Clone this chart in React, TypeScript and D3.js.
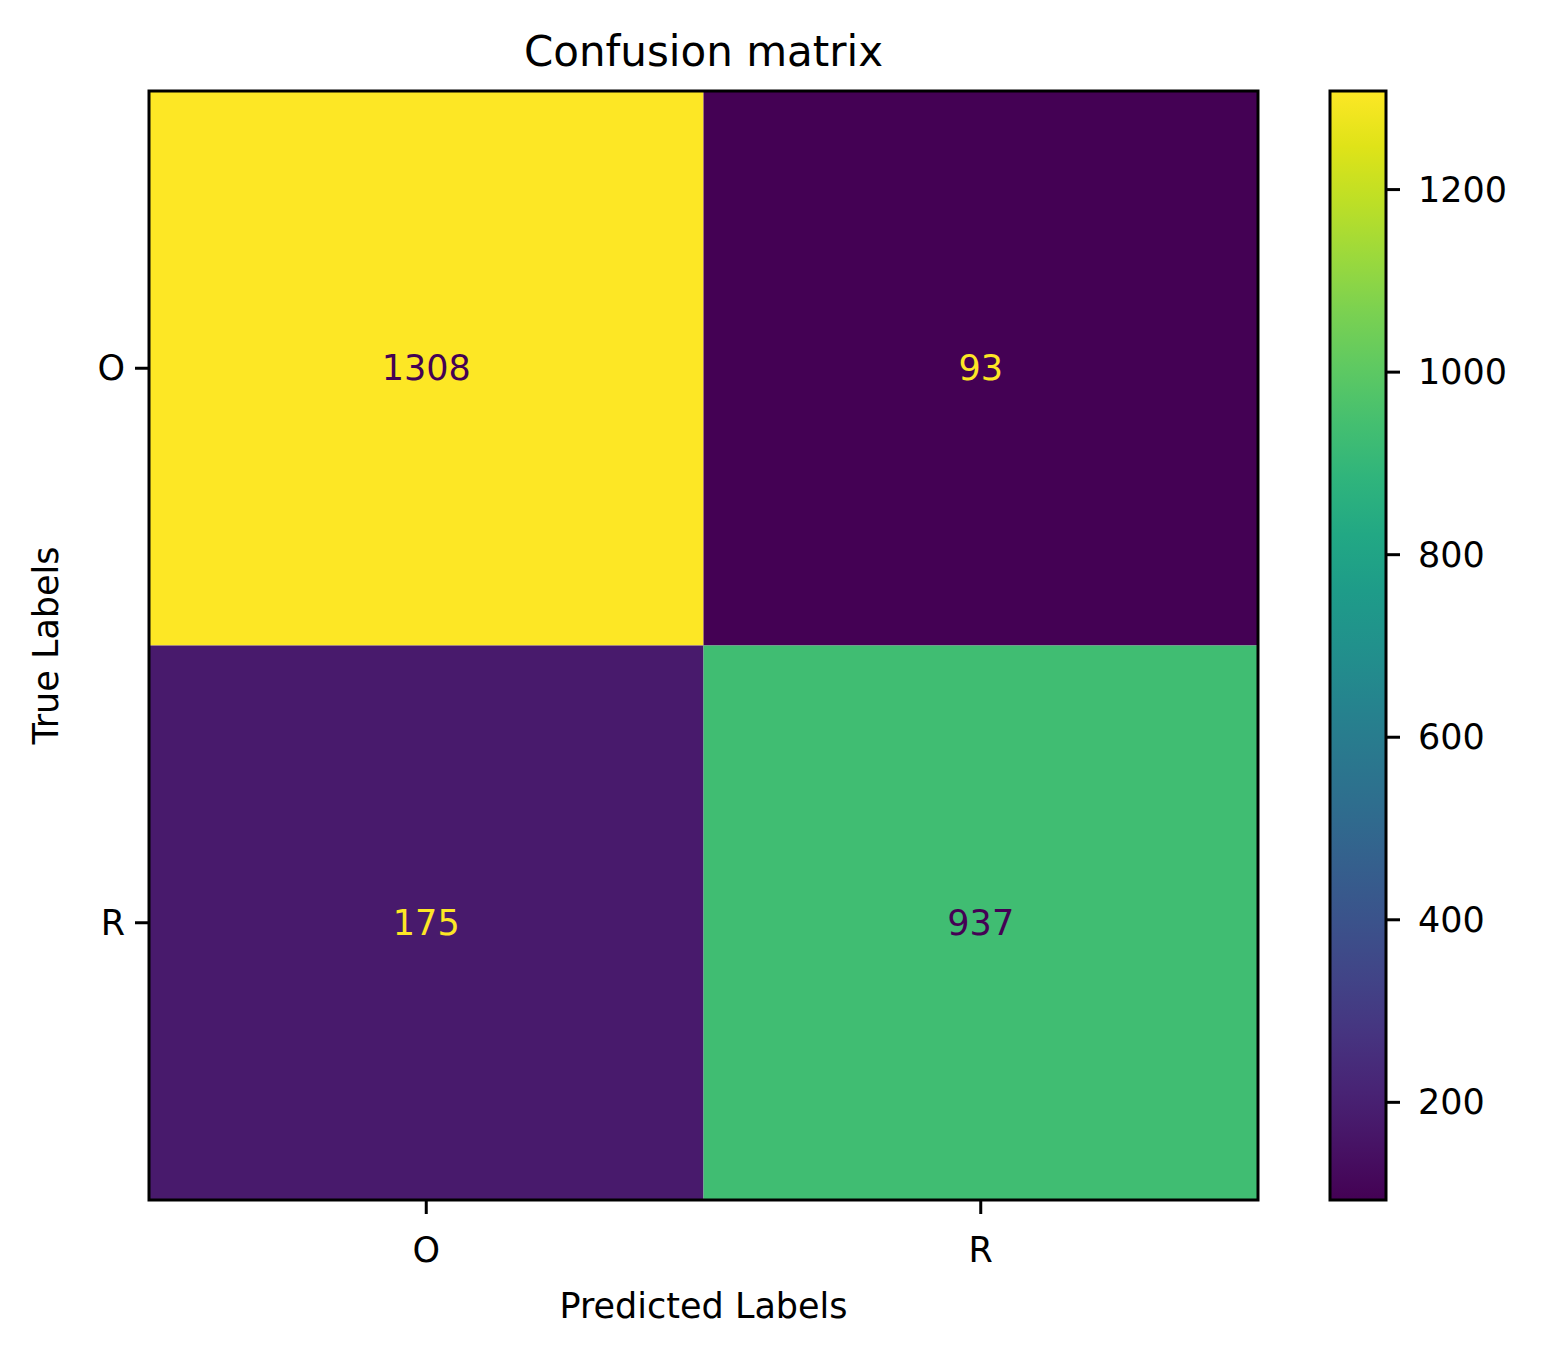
import * as d3 from "d3";

const classLabels = ["O", "R"];
const matrixValues = [
  [1308, 93],
  [175, 937],
];
const colorbarTicks = [200, 400, 600, 800, 1000, 1200];

const W = 1552;
const H = 1357;
const plot = { left: 149, top: 91, right: 1258, bottom: 1200 };
const cbar = { left: 1330, right: 1386 };
const font = "DejaVu Sans, sans-serif";

export default function App() {
  const flat = matrixValues.flat();
  const vmin = d3.min(flat) as number;
  const vmax = d3.max(flat) as number;
  const color = d3.scaleSequential(d3.interpolateViridis).domain([vmin, vmax]);
  const x = d3.scaleBand().domain(classLabels).range([plot.left, plot.right]);
  const y = d3.scaleBand().domain(classLabels).range([plot.top, plot.bottom]);
  const cy = d3.scaleLinear().domain([vmin, vmax]).range([plot.bottom, plot.top]);
  const mid = (vmin + vmax) / 2;
  const stops = d3.range(0, 1.0001, 0.05);

  return (
    <svg width={W} height={H} style={{ position: "absolute", left: 0, top: 0, background: "#fff" }} fontFamily={font}>
      <defs>
        <linearGradient id="cb" x1="0" y1="1" x2="0" y2="0">
          {stops.map((s) => (
            <stop key={s} offset={s} stopColor={d3.interpolateViridis(s)} />
          ))}
        </linearGradient>
      </defs>
      {matrixValues.map((row, i) =>
        row.map((v, j) => (
          <g key={`${i}-${j}`}>
            <rect x={x(classLabels[j])} y={y(classLabels[i])} width={x.bandwidth()} height={y.bandwidth()} fill={color(v)} />
            <text
              x={(x(classLabels[j]) as number) + x.bandwidth() / 2}
              y={(y(classLabels[i]) as number) + y.bandwidth() / 2}
              textAnchor="middle" dominantBaseline="central" fontSize={35}
              fill={v < mid ? d3.interpolateViridis(1) : d3.interpolateViridis(0)}
            >{v}</text>
          </g>
        ))
      )}
      <rect x={plot.left} y={plot.top} width={plot.right - plot.left} height={plot.bottom - plot.top} fill="none" stroke="#000" strokeWidth={3} />
      {classLabels.map((c) => {
        const px = (x(c) as number) + x.bandwidth() / 2;
        const py = (y(c) as number) + y.bandwidth() / 2;
        return (
          <g key={c}>
            <line x1={px} x2={px} y1={plot.bottom} y2={plot.bottom + 14} stroke="#000" strokeWidth={3} />
            <text x={px} y={plot.bottom + 62} textAnchor="middle" fontSize={35}>{c}</text>
            <line x1={plot.left - 14} x2={plot.left} y1={py} y2={py} stroke="#000" strokeWidth={3} />
            <text x={plot.left - 24} y={py} textAnchor="end" dominantBaseline="central" fontSize={35}>{c}</text>
          </g>
        );
      })}
      <text x={(plot.left + plot.right) / 2} y={1318} textAnchor="middle" fontSize={35}>Predicted Labels</text>
      <text transform={`translate(58,${(plot.top + plot.bottom) / 2}) rotate(-90)`} textAnchor="middle" fontSize={35}>True Labels</text>
      <text x={(plot.left + plot.right) / 2} y={66} textAnchor="middle" fontSize={42}>Confusion matrix</text>
      <rect x={cbar.left} y={plot.top} width={cbar.right - cbar.left} height={plot.bottom - plot.top} fill="url(#cb)" stroke="#000" strokeWidth={3} />
      {colorbarTicks.map((t) => (
        <g key={t}>
          <line x1={cbar.right} x2={cbar.right + 14} y1={cy(t)} y2={cy(t)} stroke="#000" strokeWidth={3} />
          <text x={cbar.right + 32} y={cy(t)} dominantBaseline="central" fontSize={35}>{t}</text>
        </g>
      ))}
    </svg>
  );
}
